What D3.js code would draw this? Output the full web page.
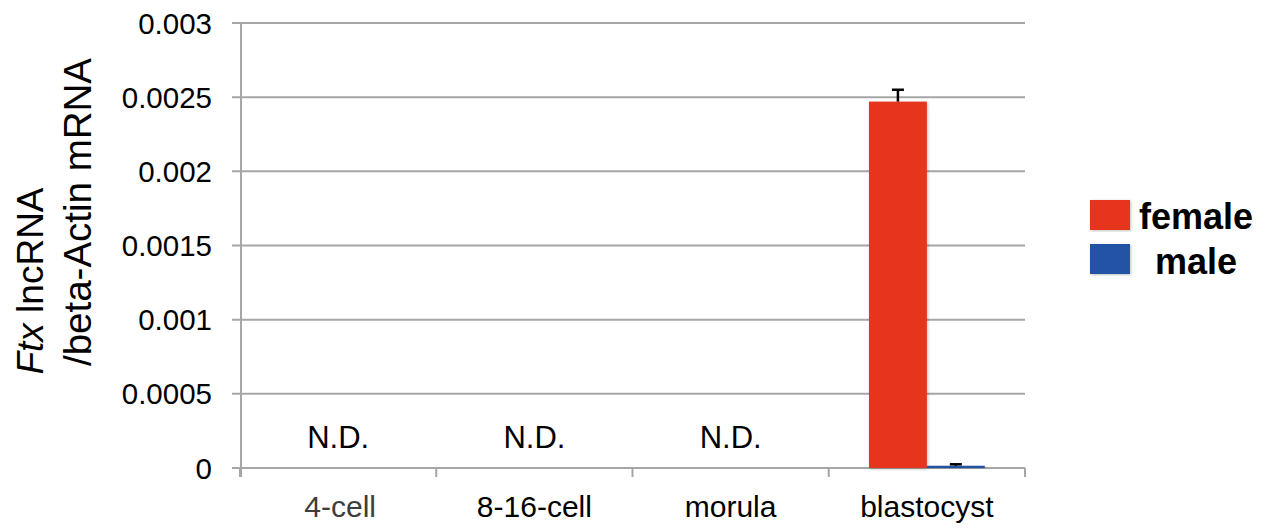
<!DOCTYPE html>
<html>
<head>
<meta charset="utf-8">
<script src="https://cdn.jsdelivr.net/npm/d3@7"></script>
<style>
  html, body { margin: 0; padding: 0; background: #fff; }
  svg { display: block; font-family: "Liberation Sans", Arial, Helvetica, sans-serif; }
</style>
</head>
<body>
<svg id="chart" width="1274" height="530"></svg>
<script>
const categories = ["4-cell", "8-16-cell", "morula", "blastocyst"];
const seriesNames = ["female", "male"];
const femaleValues = [null, null, null, 0.00247];
const maleValues = [null, null, null, 0.000015];
const femaleErrors = [null, null, null, 0.00008];
const maleErrors = [null, null, null, 0.00001];
const yTicks = [0, 0.0005, 0.001, 0.0015, 0.002, 0.0025, 0.003];
const yTickLabels = ["0", "0.0005", "0.001", "0.0015", "0.002", "0.0025", "0.003"];
const ndLabel = "N.D.";
const seriesColors = ["#e6361b", "#2352a5"];

const svg = d3.select("#chart");
const plotLeft = 240, plotRight = 1025, plotTop = 23, plotBottom = 468;

const y = d3.scaleLinear().domain([0, 0.003]).range([plotBottom, plotTop]);
const x = d3.scaleBand().domain(categories).range([plotLeft, plotRight]).paddingInner(0.41).paddingOuter(0.205);
const xs = d3.scaleBand().domain(seriesNames).range([0, x.bandwidth()]);

const gridColor = "#a6a6a6";

// gridlines
svg.append("g").selectAll("line").data(yTicks).join("line")
  .attr("x1", plotLeft - 8).attr("x2", plotRight)
  .attr("y1", d => y(d)).attr("y2", d => y(d))
  .attr("stroke", gridColor).attr("stroke-width", 2);

// y axis line
svg.append("line").attr("x1", plotLeft + 1).attr("x2", plotLeft + 1)
  .attr("y1", plotTop).attr("y2", plotBottom + 9)
  .attr("stroke", gridColor).attr("stroke-width", 2);

// x category ticks
const xBoundaries = categories.map(c => x(c) - x.step() * x.paddingInner() / 2);
xBoundaries.push(plotRight);
svg.append("g").selectAll("line").data(xBoundaries).join("line")
  .attr("x1", d => d).attr("x2", d => d)
  .attr("y1", plotBottom).attr("y2", plotBottom + 9)
  .attr("stroke", gridColor).attr("stroke-width", 2);

// y tick labels
svg.append("g").selectAll("text").data(yTicks).join("text")
  .attr("x", 212).attr("y", d => y(d) + 10.5)
  .attr("text-anchor", "end").attr("font-size", 29.5).attr("fill", "#000")
  .text((d, i) => yTickLabels[i]);

// x labels
svg.append("g").selectAll("text").data(categories).join("text")
  .attr("x", d => x(d) + x.bandwidth() / 2 + (d === "4-cell" ? 2 : 0))
  .attr("y", 517)
  .attr("text-anchor", "middle").attr("font-size", 30)
  .attr("fill", d => d === "4-cell" ? "#3d3d3d" : "#000")
  .text(d => d);

// bars
const series = [femaleValues, maleValues];
const errors = [femaleErrors, maleErrors];
const defs = svg.append("defs");
const filt = defs.append("filter").attr("id", "shadow").attr("x", "-20%").attr("y", "-5%").attr("width", "140%").attr("height", "110%");
filt.append("feDropShadow").attr("dx", 1).attr("dy", 1).attr("stdDeviation", 1.5).attr("flood-color", "#000").attr("flood-opacity", 0.25);

series.forEach((vals, si) => {
  svg.append("g").selectAll("rect").data(categories.map((c, i) => ({c, v: vals[i]})).filter(d => d.v != null))
    .join("rect")
    .attr("x", d => x(d.c) + xs(seriesNames[si]))
    .attr("width", xs.bandwidth())
    .attr("y", d => y(d.v))
    .attr("height", d => y(0) - y(d.v))
    .attr("fill", seriesColors[si])
    .attr("filter", "url(#shadow)");
});

// error bars
series.forEach((vals, si) => {
  const data = categories.map((c, i) => ({c, v: vals[i], e: errors[si][i]})).filter(d => d.v != null);
  const g = svg.append("g");
  data.forEach(d => {
    const cx = x(d.c) + xs(seriesNames[si]) + xs.bandwidth() / 2;
    g.append("line").attr("x1", cx).attr("x2", cx).attr("y1", y(d.v)).attr("y2", y(d.v + d.e))
      .attr("stroke", "#000").attr("stroke-width", 2.5);
    g.append("line").attr("x1", cx - 6).attr("x2", cx + 6).attr("y1", y(d.v + d.e)).attr("y2", y(d.v + d.e))
      .attr("stroke", "#000").attr("stroke-width", 2.5);
  });
});

// N.D. labels
svg.append("g").selectAll("text")
  .data(categories.filter((c, i) => femaleValues[i] == null && maleValues[i] == null))
  .join("text")
  .attr("x", d => x(d) + x.bandwidth() / 2)
  .attr("y", 448)
  .attr("text-anchor", "middle").attr("font-size", 31).attr("fill", "#000")
  .text(ndLabel);

// y axis title
const t1 = svg.append("text").attr("transform", "translate(43,281) rotate(-90)")
  .attr("text-anchor", "middle").attr("font-size", 37).attr("fill", "#000");
t1.append("tspan").attr("font-style", "italic").text("Ftx");
t1.append("tspan").text(" lncRNA");
svg.append("text").attr("transform", "translate(91,212) rotate(-90)")
  .attr("text-anchor", "middle").attr("font-size", 38.5).attr("fill", "#000")
  .text("/beta-Actin mRNA");

// legend
const legend = svg.append("g");
seriesNames.forEach((s, i) => {
  legend.append("rect").attr("x", 1090).attr("y", 200 + i * 44).attr("width", 40).attr("height", 30)
    .attr("fill", seriesColors[i]).attr("filter", "url(#shadow)");
  legend.append("text").attr("x", 1196).attr("y", 229 + i * 45)
    .attr("text-anchor", "middle").attr("font-size", 36).attr("font-weight", "bold").attr("fill", "#000")
    .text(s);
});
</script>
</body>
</html>
